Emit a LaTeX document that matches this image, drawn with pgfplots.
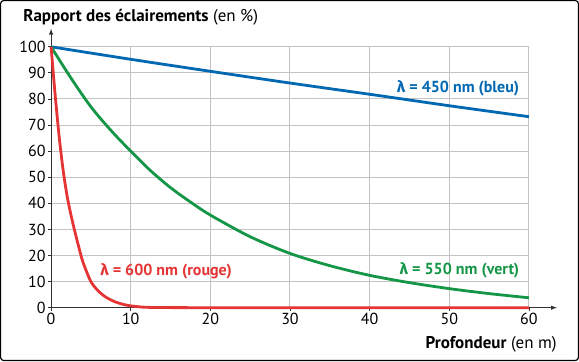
\documentclass[border=0pt]{standalone}
\usepackage{fontspec}
\setmainfont{PT Sans}
\newfontfamily\greekf{Fira Sans}
\usepackage{pgfplots}
\pgfplotsset{compat=1.18}
\definecolor{cblue}{RGB}{0,104,178}
\definecolor{cgreen}{RGB}{20,150,70}
\definecolor{cred}{RGB}{228,52,52}
\definecolor{cgrid}{RGB}{195,195,195}
\newcommand{\lam}{{\greekf\bfseries λ}}
\begin{document}
\begin{tikzpicture}[x=1pt,y=1pt]
\draw[line width=1.2pt, rounded corners=3pt] (-50.5,-52.8) rectangle (527.5,307.2);
\begin{axis}[
  at={(0,0)}, anchor=origin,
  scale only axis, width=478pt, height=261pt,
  xmin=0, xmax=60, ymin=0, ymax=100,
  xtick={0,10,...,60}, ytick={0,10,...,100},
  grid=major,
  major grid style={cgrid, line width=1pt},
  axis lines=left,
  x axis line style={-latex, line width=1pt, black!80, shorten >=-28pt},
  y axis line style={-latex, line width=1pt, black!80, shorten >=-18pt},
  tick style={black!80, line width=0.8pt},
  major tick length=3pt,
  tick align=outside,
  /pgf/number format/assume math mode=true,
  tick label style={font=\fontsize{16}{16}\selectfont},
  xticklabel style={yshift=1pt},
  yticklabel style={xshift=1pt},
  clip=false,
]
\addplot[cblue, line width=2.8pt, smooth] coordinates {
 (0,100) (10,95.2) (20,90.6) (30,86.1) (40,81.8) (50,77.4) (60,73.2)};
\addplot[cgreen, line width=2.8pt, smooth] coordinates {
 (0,100) (2.5,88) (5,77) (7.5,68) (10,60) (12.5,52.5) (15,46) (17.5,40.5) (20,35.5) (25,27.2) (30,20.8) (35,16.1) (40,12.4) (45,9.6) (50,7.3) (55,5.4) (60,3.8)};
\addplot[cred, line width=2.8pt, smooth] coordinates {
 (0,100) (0.5,82) (1,66) (1.5,53) (2,43) (2.5,35.5) (3,29) (3.5,23) (4,17.5) (5,10) (6,6.2) (7,3.8) (8,2.3) (9,1.3) (10,0.7) (11,0.35) (12,0.15) (14,0.05) (20,0) (30,0) (40,0) (50,0) (60,0)};
\node[anchor=base east, font=\fontsize{16}{16}\selectfont\bfseries, text=cblue, inner sep=0pt] at (axis cs:58.8,82.3) {\lam\ = 450 nm (bleu)};
\node[anchor=base east, font=\fontsize{16}{16}\selectfont\bfseries, text=cgreen, inner sep=0pt] at (axis cs:58.8,12.9) {\lam\ = 550 nm (vert)};
\node[anchor=base west, font=\fontsize{16}{16}\selectfont\bfseries, text=cred, inner sep=0pt] at (axis cs:6.15,12.3) {\lam\ = 600 nm (rouge)};
\end{axis}
\node[anchor=base west, inner sep=0pt, font=\fontsize{17}{17}\selectfont] at (-28,286) {\textbf{Rapport des éclairements} (en \%)};
\node[anchor=base east, inner sep=0pt, font=\fontsize{17}{17}\selectfont] at (506,-40.5) {\textbf{Profondeur} (en m)};
\end{tikzpicture}
\end{document}
